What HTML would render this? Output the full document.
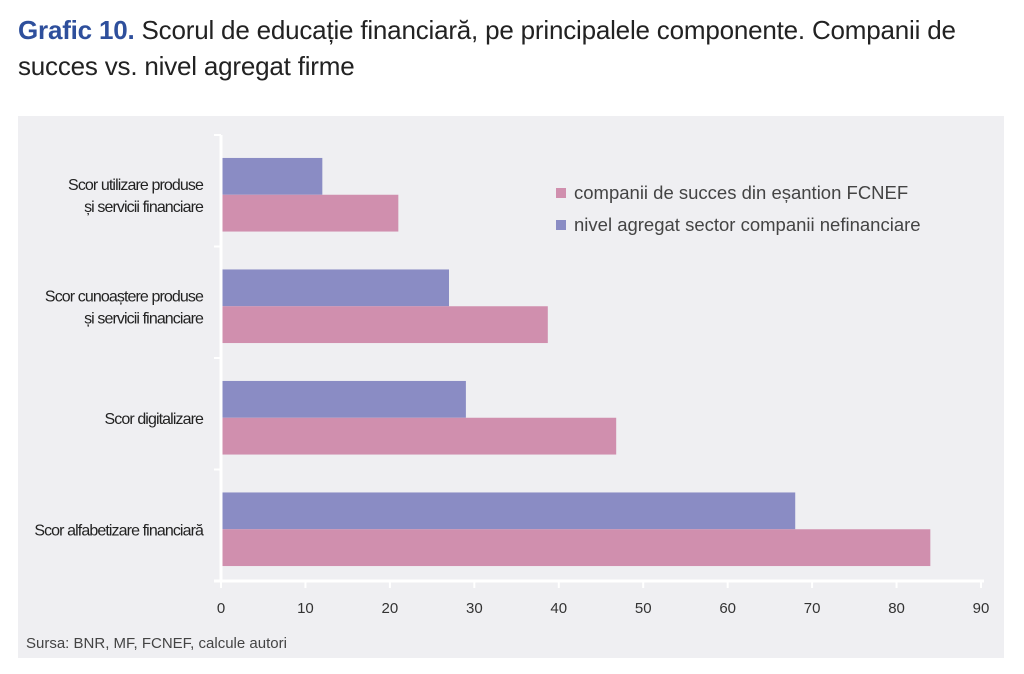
<!DOCTYPE html>
<html><head><meta charset="utf-8">
<style>
body{margin:0;width:1024px;height:674px;background:#fff;overflow:hidden;font-family:"Liberation Sans",sans-serif;}
#title{position:absolute;left:18px;top:12px;font-size:26px;line-height:36px;color:#222;letter-spacing:-0.2px;}
#title b{color:#2e4f9c;}
</style></head>
<body>
<div id="title"><b>Grafic 10.</b> Scorul de educație financiară, pe principalele componente. Companii de<br>succes vs. nivel agregat firme</div>
<svg id="chart" width="1024" height="674" style="position:absolute;left:0;top:0">
<rect x="18" y="116" width="986" height="542" fill="#efeff2"/>
<g id="plot"></g>
<text x="26" y="648" font-size="15" fill="#444">Sursa: BNR, MF, FCNEF, calcule autori</text>
<g>
<rect x="556" y="188" width="10" height="10" fill="#d08fae"/>
<text x="574" y="199" font-size="18.5" fill="#444">companii de succes din eșantion FCNEF</text>
<rect x="556" y="220" width="10" height="10" fill="#8a8cc4"/>
<text x="574" y="231" font-size="18.5" fill="#444">nivel agregat sector companii nefinanciare</text>
</g>
</svg>
<script>
const categories=[["Scor utilizare produse","și servicii financiare"],["Scor cunoaștere produse","și servicii financiare"],["Scor digitalizare"],["Scor alfabetizare financiară"]];
const aggregateValues=[12,27,29,68];
const successValues=[21,38.7,46.8,84];
const xTicks=[0,10,20,30,40,50,60,70,80,90];
const ns="http://www.w3.org/2000/svg";
const g=document.getElementById('plot');
const x0=221,x1=981,xmax=90,yTop=135,yBot=581;
const xs=v=>x0+(x1-x0)*v/xmax;
const band=(yBot-yTop)/categories.length;
function mk(t,a){const e=document.createElementNS(ns,t);for(const k in a)e.setAttribute(k,a[k]);g.appendChild(e);return e;}
categories.forEach((c,i)=>{
  const y=yTop+band*i;
  const bh=band*0.33;
  const yc=y+band/2+4;
  const r1=mk('rect',{x:x0,y:yc-bh,width:xs(aggregateValues[i])-x0,height:bh,fill:'#8a8cc4'});
  
  
  const r2=mk('rect',{x:x0,y:yc,width:xs(successValues[i])-x0,height:bh,fill:'#d08fae'});
  
  
  const t=mk('text',{x:203,y:yc-(c.length-1)*11+6,'text-anchor':'end','font-size':16,fill:'#222'});
  
  
  t.setAttribute('style','letter-spacing:-0.9px');
  c.forEach((l,j)=>{const s=document.createElementNS(ns,'tspan');s.setAttribute('x',203);s.setAttribute('dy',j?22:0);s.textContent=l;t.appendChild(s);});
});
for(let i=0;i<=categories.length;i++){
  const tk=mk('line',{x1:214,x2:x0,y1:yTop+band*i,y2:yTop+band*i,stroke:'#fff','stroke-width':2});
  
  
}
const ya=mk('line',{x1:x0,x2:x0,y1:yTop,y2:yBot,stroke:'#fff','stroke-width':3});


const xa=mk('line',{x1:214,x2:x1+3,y1:yBot,y2:yBot,stroke:'#fff','stroke-width':3});


xTicks.forEach(v=>{
  const l=mk('line',{x1:xs(v),x2:xs(v),y1:yBot,y2:yBot+7,stroke:'#fff','stroke-width':2});
  
  
  const t=mk('text',{x:xs(v),y:613,'text-anchor':'middle','font-size':15,fill:'#333'});
  
  
  t.textContent=v;
});
</script>
</body></html>
